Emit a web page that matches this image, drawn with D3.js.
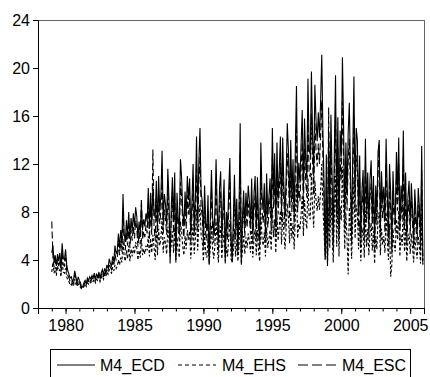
<!DOCTYPE html>
<html>
<head>
<meta charset="utf-8">
<script src="https://cdn.jsdelivr.net/npm/d3@7"></script>
<style>
  html, body { margin: 0; padding: 0; background: #fff; }
  svg { display: block; }
  text { font-family: "Liberation Sans", Arial, Helvetica, sans-serif; fill: #000; }
</style>
</head>
<body>
<svg id="chart" width="430" height="377"></svg>
<script>
// Monthly observations, 1979M01 - 2005M12
const startYear = 1979;
const seriesNames = ["M4_ECD", "M4_EHS", "M4_ESC"];

const m4Ecd = [
  4.6, 5.2, 3.8, 4.4, 3.5, 4.5, 3.9, 4.6, 3.4, 5.4, 4.2, 4.0,
  4.9, 3.6, 3.1, 2.8, 2.5, 2.6, 2.2, 2.4, 3.1, 2.6, 2.1, 2.6,
  2.3, 2.1, 1.7, 1.8, 2.1, 2.3, 2.0, 2.5, 2.3, 2.6, 2.4, 2.7,
  2.5, 2.9, 2.4, 2.8, 2.6, 3.0, 2.5, 2.9, 3.2, 2.8, 3.3, 3.0,
  3.6, 3.3, 4.1, 3.7, 3.5, 4.3, 3.9, 5.2, 4.5, 4.8, 6.2, 5.0,
  6.5, 5.4, 9.5, 6.2, 5.5, 7.3, 6.0, 8.0, 5.8, 7.5, 6.4, 7.9,
  6.8, 8.4, 7.6, 5.8, 7.2, 6.1, 8.6, 6.5, 7.4, 6.8, 7.9, 7.2,
  10.0, 6.6, 9.6, 7.0, 10.1, 8.0, 7.5, 10.6, 6.7, 11.0, 8.1, 9.4,
  13.1, 7.2, 9.5, 8.6, 7.0, 11.6, 9.1, 3.7, 8.4, 10.9, 7.2, 11.3,
  3.8, 9.6, 7.5, 6.5, 12.4, 10.9, 8.0, 6.8, 9.7, 7.6, 11.0, 9.0,
  10.8, 6.1, 8.8, 12.0, 6.9, 9.2, 14.3, 7.5, 12.2, 15.0, 9.6, 8.9,
  5.9, 10.2, 7.1, 6.4, 9.4, 3.6, 7.8, 11.5, 7.6, 6.2, 8.0, 12.4,
  8.2, 5.5, 9.9, 11.4, 6.0, 8.5, 10.7, 3.7, 8.0, 6.6, 9.7, 12.5,
  6.2, 3.8, 7.2, 11.1, 6.6, 9.1, 4.9, 8.2, 15.4, 3.6, 7.6, 9.8,
  6.8, 9.6, 7.8, 10.2, 8.9, 7.1, 10.8, 6.2, 9.5, 11.0, 6.6, 10.9,
  7.1, 5.6, 13.8, 9.4, 8.2, 10.4, 6.3, 11.2, 7.8, 9.2, 10.8, 7.4,
  15.0, 9.6, 12.9, 6.8, 13.8, 9.0, 11.5, 14.3, 8.3, 14.2, 10.3, 7.6,
  11.0, 15.4, 13.1, 8.5, 14.0, 9.3, 12.4, 7.6, 13.3, 18.5, 9.2, 12.1,
  10.4, 13.6, 16.5, 9.6, 15.8, 12.5, 10.8, 19.1, 13.2, 12.8, 19.7, 14.5,
  11.0, 18.6, 15.7, 13.9, 16.3, 14.2, 17.2, 21.1, 14.8, 10.3, 4.1, 12.8,
  3.5, 14.6, 7.8, 16.1, 10.9, 5.4, 13.4, 19.4, 8.2, 15.9, 6.6, 14.8,
  12.6, 20.9, 15.2, 7.7, 13.8, 9.4, 14.6, 17.1, 11.3, 6.2, 12.9, 19.3,
  9.5, 15.0, 14.0, 7.8, 12.7, 5.9, 9.8, 11.5, 6.5, 14.1, 8.2, 11.3,
  6.7, 10.8, 12.3, 7.5, 11.0, 5.6, 10.2, 8.0, 13.0, 14.0, 6.9, 11.4,
  8.7, 10.1, 7.3, 14.1, 9.8, 6.1, 12.0, 9.6, 5.2, 11.4, 8.5, 7.4,
  13.0, 9.4, 14.2, 6.8, 10.2, 8.6, 14.8, 7.5, 11.3, 6.0, 9.2, 10.6,
  7.0, 10.4, 8.3, 5.7, 9.9, 7.8, 6.2, 10.0, 8.4, 5.5, 13.5, 4.0
];

const m4Ehs = [
  3.0, 3.8, 2.9, 3.4, 2.7, 3.5, 3.1, 3.2, 2.6, 3.9, 3.0, 2.9,
  3.3, 2.6, 2.3, 2.2, 1.9, 2.0, 1.8, 1.9, 2.4, 2.0, 1.8, 2.0,
  1.9, 1.7, 1.6, 1.6, 1.8, 2.0, 1.8, 2.1, 2.0, 2.2, 2.1, 2.3,
  2.2, 2.4, 2.1, 2.4, 2.3, 2.6, 2.2, 2.5, 2.7, 2.4, 2.8, 2.6,
  3.0, 2.8, 3.2, 3.0, 2.9, 3.4, 3.1, 3.6, 3.3, 3.5, 4.0, 3.6,
  4.2, 3.8, 5.6, 4.3, 3.9, 4.8, 4.1, 5.2, 3.9, 4.9, 4.3, 5.1,
  4.5, 5.5, 5.0, 4.0, 4.8, 4.2, 5.8, 4.4, 4.9, 4.5, 5.2, 4.8,
  6.0, 4.3, 5.8, 4.6, 6.1, 5.1, 4.0, 6.4, 4.4, 6.6, 5.2, 5.8,
  7.5, 4.6, 5.9, 5.4, 4.5, 6.8, 5.7, 4.3, 5.3, 6.4, 4.6, 6.7,
  4.0, 5.9, 4.8, 4.2, 7.2, 6.4, 5.1, 4.4, 6.0, 4.9, 6.5, 5.7,
  6.4, 4.1, 5.5, 7.0, 4.5, 5.8, 8.2, 4.8, 7.2, 8.6, 6.0, 5.6,
  3.9, 6.2, 4.6, 4.2, 5.8, 3.7, 5.0, 6.9, 4.9, 4.1, 5.2, 7.2,
  5.3, 3.8, 6.1, 6.8, 4.1, 5.4, 6.4, 3.9, 5.1, 4.3, 5.9, 7.3,
  4.1, 3.8, 4.7, 6.6, 4.3, 5.7, 3.9, 5.2, 8.6, 3.7, 4.9, 6.0,
  4.5, 5.9, 5.0, 6.2, 5.6, 4.6, 6.5, 4.2, 5.8, 6.6, 4.4, 6.5,
  4.7, 3.9, 7.9, 5.8, 5.2, 6.3, 4.3, 6.7, 5.0, 5.7, 6.5, 4.8,
  8.4, 5.9, 7.4, 4.6, 7.8, 5.6, 6.8, 8.1, 5.3, 8.0, 6.3, 4.9,
  6.6, 8.7, 7.5, 5.4, 8.0, 5.8, 7.1, 4.9, 7.6, 10.4, 5.8, 7.0,
  6.5, 7.8, 9.4, 6.0, 9.0, 7.3, 6.6, 10.8, 7.6, 7.4, 11.2, 8.3,
  6.7, 10.6, 9.0, 8.1, 9.3, 8.2, 9.8, 12.0, 8.5, 6.3, 4.0, 7.4,
  3.7, 8.4, 5.0, 9.2, 6.5, 3.8, 7.7, 11.0, 5.1, 9.1, 4.3, 8.5,
  7.3, 11.8, 8.7, 4.9, 7.9, 5.8, 2.8, 8.4, 6.6, 4.1, 7.4, 10.9,
  5.8, 8.6, 8.0, 4.9, 7.3, 3.9, 6.0, 6.7, 4.2, 8.1, 5.1, 6.6,
  4.4, 6.3, 7.1, 4.8, 6.4, 3.7, 6.0, 4.9, 7.5, 8.0, 4.4, 6.6,
  5.3, 6.0, 4.6, 8.0, 5.8, 4.0, 7.0, 2.6, 3.6, 6.6, 5.2, 4.7,
  7.4, 5.7, 8.1, 4.3, 6.1, 5.2, 8.4, 4.7, 6.6, 3.9, 5.6, 6.2,
  4.5, 6.2, 5.1, 3.8, 6.0, 4.9, 4.1, 6.0, 5.2, 3.7, 7.6, 3.7
];

const m4Esc = [
  7.2, 4.3, 3.4, 4.0, 3.1, 4.1, 3.5, 4.0, 3.0, 4.6, 3.6, 3.5,
  4.2, 3.1, 2.7, 2.5, 2.2, 2.3, 2.0, 2.1, 2.8, 2.3, 1.9, 2.3,
  2.1, 1.9, 1.6, 1.7, 1.9, 2.2, 1.9, 2.3, 2.2, 2.4, 2.2, 2.5,
  2.4, 2.7, 2.3, 2.6, 2.5, 2.8, 2.4, 2.7, 3.0, 2.6, 3.1, 2.8,
  3.3, 3.1, 3.7, 3.4, 3.2, 3.9, 3.5, 4.5, 4.0, 4.2, 5.4, 4.4,
  5.6, 4.7, 8.1, 5.3, 4.8, 6.3, 5.2, 6.9, 5.0, 6.5, 5.6, 6.8,
  5.8, 7.3, 6.6, 5.1, 6.3, 5.3, 9.1, 5.7, 6.4, 5.9, 6.9, 6.2,
  8.6, 5.7, 8.3, 6.1, 13.2, 6.9, 5.6, 9.1, 5.8, 9.4, 7.0, 8.1,
  11.0, 6.2, 8.2, 7.4, 6.1, 9.9, 7.9, 4.8, 7.3, 9.3, 6.2, 9.6,
  4.7, 8.3, 6.5, 5.6, 10.5, 9.3, 6.9, 5.9, 8.4, 6.6, 9.4, 7.8,
  9.2, 5.3, 7.6, 10.2, 6.0, 7.9, 12.0, 6.5, 10.4, 12.6, 8.3, 7.7,
  5.1, 8.8, 6.1, 5.6, 8.1, 4.4, 6.8, 9.8, 6.6, 5.4, 6.9, 10.5,
  7.1, 4.8, 8.5, 9.7, 5.2, 7.3, 9.1, 4.5, 6.9, 5.7, 8.3, 10.6,
  5.4, 4.3, 6.2, 9.4, 5.7, 7.8, 4.5, 7.1, 12.9, 4.2, 6.6, 8.4,
  5.9, 8.3, 6.7, 8.7, 7.7, 6.1, 9.2, 5.4, 8.2, 9.4, 5.7, 9.3,
  6.1, 4.9, 11.6, 8.1, 7.1, 8.9, 5.5, 9.6, 6.7, 7.9, 9.2, 6.4,
  12.6, 8.3, 10.9, 5.9, 11.7, 7.8, 9.8, 12.1, 7.2, 12.0, 8.9, 6.6,
  9.4, 12.9, 11.1, 7.4, 11.8, 8.0, 10.5, 6.6, 11.3, 15.3, 8.0, 10.3,
  8.9, 11.5, 13.8, 8.3, 13.3, 10.6, 9.2, 15.8, 11.2, 10.9, 16.2, 12.3,
  9.4, 15.4, 13.2, 11.8, 13.7, 12.0, 14.4, 17.3, 12.5, 8.8, 4.6, 10.2,
  4.0, 16.7, 6.7, 13.5, 9.3, 4.8, 11.3, 16.0, 7.1, 13.4, 5.7, 12.5,
  10.7, 17.2, 12.8, 6.6, 11.7, 8.1, 12.3, 14.1, 9.6, 5.4, 11.0, 15.9,
  8.1, 12.7, 11.9, 6.7, 10.8, 5.1, 8.4, 9.8, 5.6, 11.9, 7.1, 9.6,
  5.8, 9.2, 10.4, 6.5, 9.4, 4.8, 8.7, 6.9, 11.0, 13.6, 5.9, 9.7,
  7.5, 8.6, 6.3, 11.9, 8.4, 5.3, 10.2, 8.2, 4.5, 9.7, 7.3, 6.4,
  11.0, 8.1, 12.0, 5.9, 8.7, 7.4, 12.5, 6.5, 9.6, 5.2, 7.9, 9.0,
  6.1, 8.9, 7.2, 5.0, 8.5, 6.7, 5.4, 8.6, 7.2, 4.8, 11.5, 3.6
];

const yTicks = [0, 4, 8, 12, 16, 20, 24];
const yearLabels = [1980, 1985, 1990, 1995, 2000, 2005];
const minorYears = d3.range(1978, 2007);

const svg = d3.select("#chart");
const plotLeft = 38, plotRight = 424, plotTop = 20, plotBottom = 308;
const fontSize = 16;

const x = d3.scaleLinear().domain([1978, 2006]).range([plotLeft, plotRight]);
const y = d3.scaleLinear().domain([0, 24]).range([plotBottom, plotTop]);

const toPoints = vals => vals.map((v, i) => ({ t: startYear + i / 12, v }));

const series = [
  { name: seriesNames[0], values: toPoints(m4Ecd), dash: null, legendDash: null },
  { name: seriesNames[1], values: toPoints(m4Ehs), dash: "3,2", legendDash: "4,3" },
  { name: seriesNames[2], values: toPoints(m4Esc), dash: "7,3", legendDash: "10,4" }
];

// frame (top and right edges)
svg.append("line").attr("x1", plotLeft).attr("x2", plotRight).attr("y1", plotTop + 0.5).attr("y2", plotTop + 0.5)
  .attr("stroke", "#666").attr("stroke-width", 1);
svg.append("line").attr("x1", plotRight + 0.5).attr("x2", plotRight + 0.5).attr("y1", plotTop).attr("y2", plotBottom)
  .attr("stroke", "#666").attr("stroke-width", 1);

// minor year ticks
svg.append("g")
  .attr("transform", `translate(0,${plotBottom})`)
  .call(d3.axisBottom(x).tickValues(minorYears).tickSize(3.5).tickFormat(""))
  .call(g => g.select(".domain").remove())
  .selectAll("line").attr("stroke", "#000");

// major year ticks with labels
svg.append("g")
  .attr("transform", `translate(0,${plotBottom})`)
  .call(d3.axisBottom(x).tickValues(yearLabels).tickSize(6).tickPadding(6).tickFormat(d3.format("d")))
  .call(g => g.select(".domain").attr("stroke", "#000"))
  .call(g => g.selectAll("text").attr("font-size", fontSize).attr("font-family", "Liberation Sans, Arial, sans-serif"));

// value axis
svg.append("g")
  .attr("transform", `translate(${plotLeft},0)`)
  .call(d3.axisLeft(y).tickValues(yTicks).tickSize(5).tickPadding(3).tickFormat(d3.format("d")))
  .call(g => g.select(".domain").attr("stroke", "#000"))
  .call(g => g.selectAll("text").attr("font-size", fontSize).attr("font-family", "Liberation Sans, Arial, sans-serif"));

// series lines
const line = d3.line().x(d => x(d.t)).y(d => y(d.v));
svg.append("g").selectAll("path")
  .data(series)
  .join("path")
  .attr("d", d => line(d.values))
  .attr("fill", "none")
  .attr("stroke", "#000")
  .attr("stroke-width", 1.1)
  .attr("stroke-dasharray", d => d.dash);

// legend
const legend = svg.append("g");
legend.append("rect")
  .attr("x", 50.5).attr("y", 349.5).attr("width", 360).attr("height", 40)
  .attr("fill", "none").attr("stroke", "#000");
const legendItems = [
  { x0: 57, x1: 95, tx: 100 },
  { x0: 178, x1: 216, tx: 222 },
  { x0: 298, x1: 337, tx: 342 }
];
series.forEach((s, i) => {
  const it = legendItems[i];
  legend.append("line")
    .attr("x1", it.x0).attr("x2", it.x1).attr("y1", 365).attr("y2", 365)
    .attr("stroke", "#000").attr("stroke-width", 1)
    .attr("stroke-dasharray", s.legendDash);
  legend.append("text")
    .attr("x", it.tx).attr("y", 370.5)
    .attr("font-size", fontSize)
    .text(s.name);
});
</script>
</body>
</html>
